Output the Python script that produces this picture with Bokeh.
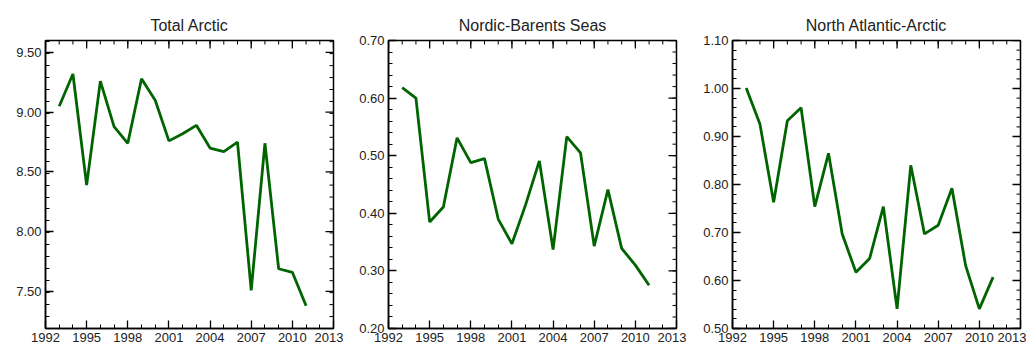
import math
from bokeh.plotting import figure
from bokeh.layouts import row
from bokeh.models import FixedTicker, PrintfTickFormatter, LinearAxis, Range1d
from bokeh.embed import file_html
from bokeh.resources import INLINE

years = list(range(1993, 2012))
total_arctic = [9.05, 9.32, 8.39, 9.26, 8.88, 8.74, 9.28, 9.10, 8.76, 8.82,
                8.89, 8.70, 8.67, 8.75, 7.51, 8.74, 7.69, 7.66, 7.38]
nordic_barents = [0.618, 0.600, 0.385, 0.411, 0.531, 0.488, 0.495, 0.390, 0.347, 0.415,
                  0.491, 0.337, 0.533, 0.505, 0.343, 0.441, 0.339, 0.310, 0.275]
north_atlantic_arctic = [1.001, 0.926, 0.763, 0.933, 0.960, 0.754, 0.865, 0.697, 0.617, 0.646,
                         0.754, 0.541, 0.840, 0.697, 0.715, 0.792, 0.631, 0.541, 0.607]
titles = ["Total Arctic", "Nordic-Barents Seas", "North Atlantic-Arctic"]

x_major = [1992, 1995, 1998, 2001, 2004, 2007, 2010, 2013]
x_minor = list(range(1992, 2014))

y1_major = [7.5, 8.0, 8.5, 9.0, 9.5]
y2_major = [0.2, 0.3, 0.4, 0.5, 0.6, 0.7]
y3_major = [0.5, 0.6, 0.7, 0.8, 0.9, 1.0, 1.1]
y1_step, y2_step, y3_step = 0.1, 0.02, 0.02
y_ranges = [(7.19, 9.60), (0.20, 0.70), (0.50, 1.10)]

FONT = "Liberation Sans"
LINE_COLOR = "#006400"


def minor_list(lo, hi, step):
    n = int(round((hi - lo) / step))
    return [round(lo + i * step, 4) for i in range(n + 1)]


def style_axis(ax):
    ax.major_tick_in = 8
    ax.major_tick_out = 0
    ax.minor_tick_in = 4
    ax.minor_tick_out = 0
    ax.axis_line_color = "black"
    ax.axis_line_width = 1.5
    ax.major_tick_line_color = "black"
    ax.major_tick_line_width = 1.3
    ax.minor_tick_line_color = "black"
    ax.minor_tick_line_width = 1
    ax.major_label_text_font = FONT
    ax.major_label_text_font_size = "13px"
    ax.major_label_text_color = "#222222"
    ax.major_label_standoff = 4


def make(title, y, yr, ymaj, ystep, bl, br):
    p = figure(frame_width=288, frame_height=288, output_backend="svg",
               toolbar_location=None, x_range=Range1d(1992, 2013),
               y_range=Range1d(*yr), min_border_left=bl, min_border_right=br,
               min_border_top=40, min_border_bottom=16,
               x_axis_location=None, y_axis_location=None)
    p.title.text = title
    p.title.align = "center"
    p.title.text_font = FONT
    p.title.text_font_size = "16px"
    p.title.text_font_style = "normal"
    p.title.text_color = "#222222"
    p.title.standoff = 14
    y_minor = minor_list(yr[0], yr[1], ystep)
    xt = FixedTicker(ticks=x_major, minor_ticks=x_minor)
    yt = FixedTicker(ticks=ymaj, minor_ticks=y_minor)
    bottom = LinearAxis(ticker=xt)
    left = LinearAxis(ticker=yt, formatter=PrintfTickFormatter(format="%.2f"))
    style_axis(bottom)
    style_axis(left)
    p.add_layout(bottom, "below")
    p.add_layout(left, "left")
    p.xgrid.visible = False
    p.ygrid.visible = False
    p.outline_line_color = "black"
    p.outline_line_width = 1.5
    # inward ticks on the top and right edges (half of each dash is clipped by the frame)
    p.scatter(x_major, [yr[1]] * len(x_major), marker="dash", size=16, angle=math.pi / 2,
              line_color="black", line_width=1.3)
    p.scatter(x_minor, [yr[1]] * len(x_minor), marker="dash", size=8, angle=math.pi / 2,
              line_color="black", line_width=1)
    p.scatter([2013] * len(ymaj), ymaj, marker="dash", size=16,
              line_color="black", line_width=1.3)
    p.scatter([2013] * len(y_minor), y_minor, marker="dash", size=8,
              line_color="black", line_width=1)
    p.line(years, y, line_color=LINE_COLOR, line_width=2.8)
    return p


p1 = make(titles[0], total_arctic, y_ranges[0], y1_major, y1_step, 45, 10)
p2 = make(titles[1], nordic_barents, y_ranges[1], y2_major, y2_step, 45, 10)
p3 = make(titles[2], north_atlantic_arctic, y_ranges[2], y3_major, y3_step, 46, 6)

layout = row(p1, p2, p3, spacing=0)
open("out.html", "w").write(file_html(layout, INLINE))
